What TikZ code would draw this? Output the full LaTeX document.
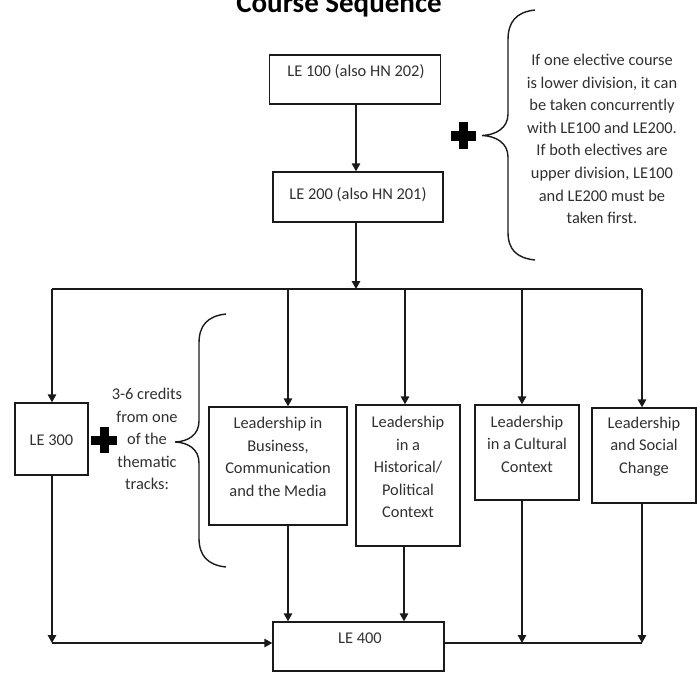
\documentclass[tikz,border=0pt]{standalone}
\usepackage{fontspec}
\setmainfont{Carlito}
\usetikzlibrary{arrows.meta,calc}
\definecolor{ink}{HTML}{1A1A1A}
\definecolor{txtc}{HTML}{303030}
\tikzset{
  box/.style={draw=ink, line width=1.4pt, inner sep=0pt, rectangle},
  txt/.style={text=txtc, align=center, inner sep=0pt, font=\fontsize{16.4}{22.6}\selectfont},
  conn/.style={draw=ink, line width=1.5pt},
  arr/.style={conn, -{Triangle[length=8pt,width=8.5pt]}},
  brace/.style={draw=ink, line width=1.4pt},
  plusbar/.style={fill=black, draw=none}
}
\begin{document}
\begin{tikzpicture}[x=1pt,y=-1pt]
\useasboundingbox (0,0) rectangle (700,673);
\clip (0,0) rectangle (700,673);

% title
\node[anchor=base, inner sep=0pt, font=\fontsize{29}{34}\selectfont\bfseries] (title) at (339,12) {Course Sequence};

% boxes
\node[box, minimum width=171pt, minimum height=49pt] (le100) at (355,79.5) {};
\node[txt] (le100t) at (356,72) {LE 100 (also HN 202)};
\node[box, minimum width=170pt, minimum height=50pt] (le200) at (358,197) {};
\node[txt] (le200t) at (358,195) {LE 200 (also HN 201)};
\node[box, minimum width=73pt, minimum height=72pt] (le300) at (51.5,439) {};
\node[txt] (le300t) at (51.5,440) {LE 300};
\node[box, minimum width=138pt, minimum height=118pt] (bus) at (278,466) {};
\node[txt] (bust) at (278,457) {Leadership in\\Business,\\Communication\\and the Media};
\node[box, minimum width=104pt, minimum height=141pt] (hist) at (408,475.5) {};
\node[txt] (histt) at (408,467) {Leadership\\in a\\Historical/\\Political\\Context};
\node[box, minimum width=104pt, minimum height=95pt] (cult) at (527,452.5) {};
\node[txt] (cultt) at (527,444) {Leadership\\in a Cultural\\Context};
\node[box, minimum width=104pt, minimum height=95pt] (soc) at (644,455.5) {};
\node[txt] (soct) at (644,446.5) {Leadership\\and Social\\Change};
\node[box, minimum width=171pt, minimum height=49pt] (le400) at (358.5,646.5) {};
\node[txt] (le400t) at (360,638) {LE 400};

% side notes
\node[txt] (note) at (602,139) {If one elective course\\is lower division, it can\\be taken concurrently\\with LE100 and LE200.\\If both electives are\\upper division, LE100\\and LE200 must be\\taken first.};
\node[txt] (credits) at (147,439) {3-6 credits\\from one\\of the\\thematic\\tracks:};

% plus signs
\fill[plusbar] (459,122) rectangle (468,149);
\fill[plusbar] (451,130.5) rectangle (476,140.5);
\fill[plusbar] (99.5,427) rectangle (108.5,453);
\fill[plusbar] (91,435.5) rectangle (117,444.5);

% braces
\draw[brace] (535,10) .. controls (516,12) and (508,22) .. (508,40) -- (508,114)
  .. controls (508,128) and (496,135) .. (482,135.5)
  .. controls (496,136) and (508,143) .. (508,157) -- (508,232)
  .. controls (508,249) and (516,258) .. (535,260);
\draw[brace] (226,314) .. controls (207,316) and (199,326) .. (199,343) -- (199,421)
  .. controls (199,435) and (188,441.5) .. (175,442)
  .. controls (188,442.5) and (199,449) .. (199,463) -- (199,538)
  .. controls (199,555) and (207,565) .. (226,567);

% column coordinates
\coordinate (top) at (356,289);
\coordinate (hl) at (52,289);
\coordinate (hr) at (642,289);
\coordinate (cbus) at (288,289);
\coordinate (chist) at (405,289);
\coordinate (ccult) at (522,289);
\coordinate (csoc) at (642,289);
\coordinate (bl) at (52,643);
\coordinate (br) at (642,643);

% connectors top
\draw[arr] (top |- le100.south) -- (top |- le200.north);
\draw[arr] (top |- le200.south) -- (top);
\draw[conn] (hl) -- (hr);
\draw[arr] (hl) -- (hl |- le300.north);
\draw[arr] (cbus) -- (cbus |- bus.north);
\draw[arr] (chist) -- (chist |- hist.north);
\draw[arr] (ccult) -- (ccult |- cult.north);
\draw[arr] (csoc) -- (csoc |- soc.north);

% connectors bottom
\draw[arr] (hl |- le300.south) -- (bl);
\draw[arr] (bl) -- (bl -| le400.west);
\draw[arr] (cbus |- bus.south) -- (cbus |- le400.north);
\draw[arr] ([xshift=-1pt]chist |- hist.south) -- ([xshift=-1pt]chist |- le400.north);
\draw[arr] (ccult |- cult.south) -- (ccult |- br);
\draw[arr] (csoc |- soc.south) -- (br);
\draw[conn] (br -| le400.east) -- (br);
\end{tikzpicture}
\end{document}
